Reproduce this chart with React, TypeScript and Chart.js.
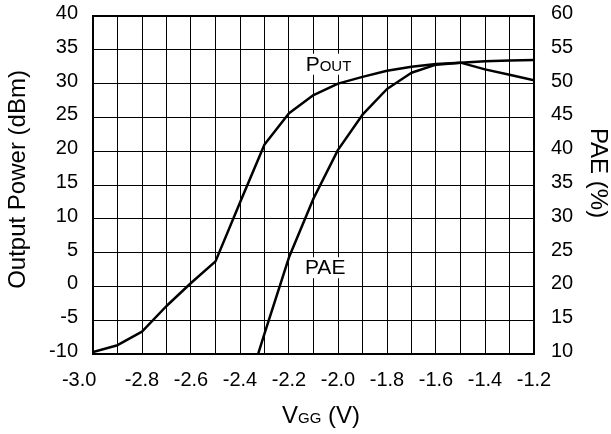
import React, { useEffect, useRef } from 'react';
import { Chart, registerables } from 'chart.js';

Chart.register(...registerables);

// ---- data ----
const vgg = [-3.0, -2.9, -2.8, -2.7, -2.6, -2.5, -2.4, -2.3, -2.2, -2.1, -2.0, -1.9, -1.8, -1.7, -1.6, -1.5, -1.4, -1.3, -1.2];
const poutDbm = [-9.7, -8.7, -6.7, -2.9, 0.5, 3.7, 12.4, 21.0, 25.6, 28.3, 30.0, 31.0, 31.9, 32.5, 32.9, 33.1, 33.3, 33.4, 33.5];

const paeVgg = [-2.4, -2.3, -2.2, -2.1, -2.0, -1.9, -1.8, -1.7, -1.6, -1.5, -1.4, -1.3, -1.2];
const paePct = [1.5, 13.0, 24.3, 33.0, 40.2, 45.4, 49.2, 51.6, 52.8, 53.1, 52.1, 51.3, 50.5];

const xRange = [-3.0, -1.2];
const xGridStep = 0.1;
const leftRange = [-10, 40];
const rightRange = [10, 60];
const yStep = 5;

// curve label anchors (data coordinates)
const poutLabelAt = [-2.132, 31.9];
const paeLabelAt = [-2.135, 21.8];

const FONT = "'Liberation Sans', Arial, Helvetica, sans-serif";

const textPlugin = {
  id: 'textPlugin',
  beforeDatasetsDraw(chart: any) {
    const { ctx, chartArea: ca, scales } = chart;
    ctx.save();
    // in-plot labels with white boxes
    const drawSubLabel = (main: string, sub: string, px: number, py: number) => {
      ctx.font = `21px ${FONT}`;
      const w1 = ctx.measureText(main).width;
      ctx.font = `15px ${FONT}`;
      const w2 = sub ? ctx.measureText(sub).width : 0;
      ctx.fillStyle = '#fff';
      ctx.fillRect(px - 2, py - 17, w1 + w2 + 4, 21);
      ctx.fillStyle = '#000';
      ctx.textBaseline = 'alphabetic';
      ctx.textAlign = 'left';
      ctx.font = `21px ${FONT}`;
      ctx.fillText(main, px, py);
      if (sub) {
        ctx.font = `15px ${FONT}`;
        ctx.fillText(sub, px + w1, py);
      }
    };
    drawSubLabel('P', 'OUT', scales.x.getPixelForValue(poutLabelAt[0]), scales.y.getPixelForValue(poutLabelAt[1]));
    drawSubLabel('PAE', '', scales.x.getPixelForValue(paeLabelAt[0]), scales.y2.getPixelForValue(paeLabelAt[1]));
    // frame
    ctx.strokeStyle = '#000';
    ctx.lineWidth = 2;
    ctx.strokeRect(Math.round(ca.left), Math.round(ca.top), Math.round(ca.right) - Math.round(ca.left), Math.round(ca.bottom) - Math.round(ca.top));
    ctx.restore();
  },
  afterDraw(chart: any) {
    const { ctx, chartArea: ca } = chart;
    ctx.save();
    ctx.fillStyle = '#000';
    ctx.textBaseline = 'alphabetic';
    // x title: V_GG (V)
    const mainF = `24px ${FONT}`;
    const subF = `15px ${FONT}`;
    ctx.font = mainF;
    const wV = ctx.measureText('V').width;
    const wRest = ctx.measureText(' (V)').width;
    ctx.font = subF;
    const wGG = ctx.measureText('GG').width;
    const total = wV + wGG + wRest;
    const cx = (ca.left + ca.right) / 2 + 7.5;
    const x0 = cx - total / 2;
    const by = ca.bottom + 69;
    ctx.textAlign = 'left';
    ctx.font = mainF;
    ctx.fillText('V', x0, by);
    ctx.font = subF;
    ctx.fillText('GG', x0 + wV, by);
    ctx.font = mainF;
    ctx.fillText(' (V)', x0 + wV + wGG, by);

    // left title
    const midY = (ca.top + ca.bottom) / 2;
    ctx.save();
    ctx.translate(25, midY - 5.5);
    ctx.rotate(-Math.PI / 2);
    ctx.textAlign = 'center';
    ctx.font = mainF;
    ctx.fillText('Output Power (dBm)', 0, 0);
    ctx.restore();

    // right title
    ctx.save();
    ctx.translate(591, midY - 12);
    ctx.rotate(Math.PI / 2);
    ctx.textAlign = 'center';
    ctx.font = mainF;
    ctx.fillText('PAE (%)', 0, 0);
    ctx.restore();

    ctx.restore();
  },
};

export default function App() {
  const ref = useRef<HTMLCanvasElement | null>(null);
  useEffect(() => {
    document.body.style.margin = '0';
    const canvas = ref.current;
    if (!canvas) return;
    const chart = new Chart(canvas, {
      type: 'line',
      data: {
        datasets: [
          {
            label: 'POUT',
            data: vgg.map((v, i) => ({ x: v, y: poutDbm[i] })),
            borderColor: '#000',
            borderWidth: 2.5,
            pointRadius: 0,
            tension: 0,
            yAxisID: 'y',
            clip: 0,
            borderJoinStyle: 'round',
          },
          {
            label: 'PAE',
            data: paeVgg.map((v, i) => ({ x: v, y: paePct[i] })),
            borderColor: '#000',
            borderWidth: 2.5,
            pointRadius: 0,
            tension: 0,
            yAxisID: 'y2',
            clip: 0,
            borderJoinStyle: 'round',
          },
        ],
      },
      options: {
        responsive: false,
        animation: false,
        events: [],
        layout: { padding: { top: 16, left: 0, right: 0, bottom: 0 } },
        plugins: { legend: { display: false }, tooltip: { enabled: false }, title: { display: false } },
        scales: {
          x: {
            type: 'linear',
            min: xRange[0],
            max: xRange[1],
            afterFit: (s: any) => { s.height = 80; s.paddingLeft = 0; s.paddingRight = 0; },
            grid: { color: '#000', lineWidth: 1, drawTicks: false },
            border: { display: false },
            ticks: {
              stepSize: xGridStep,
              autoSkip: false,
              maxRotation: 0,
              minRotation: 0,
              padding: 14,
              color: '#000',
              font: { size: 20, family: FONT },
              callback: (value: any, index: number) => {
                if (index % 2 !== 0) return '';
                const t = Number(value).toFixed(1);
                return index === 0 ? t + '     ' : t;
              },
            },
          },
          y: {
            type: 'linear',
            position: 'left',
            min: leftRange[0],
            max: leftRange[1],
            afterFit: (s: any) => { s.width = 93; s.paddingTop = 0; s.paddingBottom = 0; },
            grid: { color: '#000', lineWidth: 1, drawTicks: false },
            border: { display: false },
            ticks: {
              stepSize: yStep,
              padding: 15,
              labelOffset: -2.5,
              color: '#000',
              font: { size: 20, family: FONT },
            },
          },
          y2: {
            type: 'linear',
            position: 'right',
            min: rightRange[0],
            max: rightRange[1],
            afterFit: (s: any) => { s.width = 77; s.paddingTop = 0; s.paddingBottom = 0; },
            grid: { drawOnChartArea: false, drawTicks: false },
            border: { display: false },
            ticks: {
              stepSize: yStep,
              padding: 17,
              labelOffset: -2.5,
              color: '#000',
              font: { size: 20, family: FONT },
            },
          },
        },
      } as any,
      plugins: [textPlugin],
    });
    return () => chart.destroy();
  }, []);
  return (
    <div style={{ width: 611, height: 434, background: '#fff' }}>
      <canvas ref={ref} width={611} height={434} style={{ display: 'block' }} />
    </div>
  );
}
